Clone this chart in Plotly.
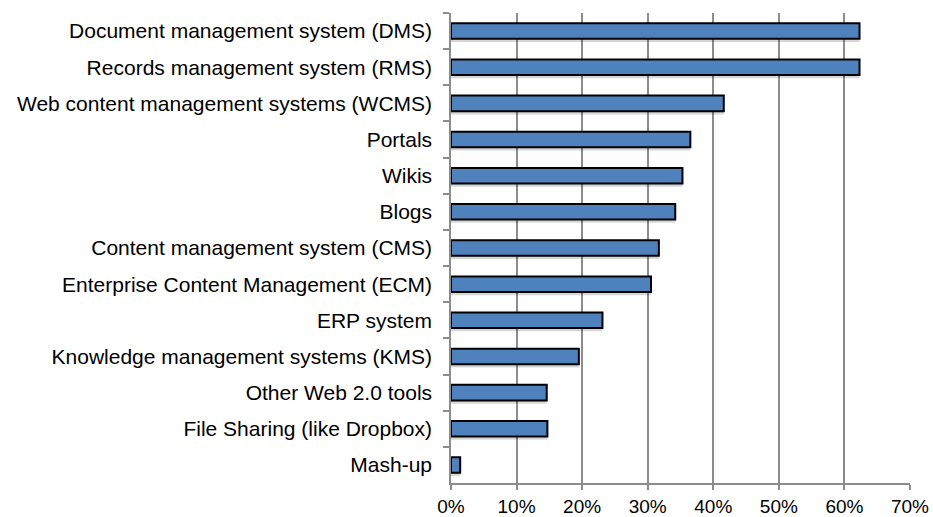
"""Horizontal bar chart of system usage shares, Excel-style."""

import plotly.graph_objects as go

categories = [
    "Document management system (DMS)",
    "Records management system (RMS)",
    "Web content management systems (WCMS)",
    "Portals",
    "Wikis",
    "Blogs",
    "Content management system (CMS)",
    "Enterprise Content Management (ECM)",
    "ERP system",
    "Knowledge management systems (KMS)",
    "Other Web 2.0 tools",
    "File Sharing (like Dropbox)",
    "Mash-up",
]
shares = [62.3, 62.3, 41.6, 36.5, 35.3, 34.2, 31.7, 30.5, 23.1, 19.5, 14.6, 14.7, 1.4]
x_ticks = [0, 10, 20, 30, 40, 50, 60, 70]

_FONT = "Liberation Sans, Arial, sans-serif"
_GRID = "#8c8c8c"
_BAR_W = 0.43

fig = go.Figure()

# soft drop shadow under each bar
fig.add_trace(
    go.Bar(
        x=shares,
        y=categories,
        orientation="h",
        width=_BAR_W,
        offset=-_BAR_W / 2 + 0.09,
        marker_color="rgba(0,0,0,0.16)",
        marker_line_width=0,
        hoverinfo="skip",
    )
)
fig.add_trace(
    go.Bar(
        x=shares,
        y=categories,
        orientation="h",
        width=_BAR_W,
        offset=-_BAR_W / 2,
        marker_color="#4F81BD",
        marker_line_color="#000000",
        marker_line_width=2,
        hovertemplate="<b>%{y}</b><br>%{x:.1f}%<extra></extra>",
    )
)

fig.update_layout(
    width=933,
    height=517,
    paper_bgcolor="white",
    plot_bgcolor="white",
    font=dict(family=_FONT, color="#000000", size=21),
    margin=dict(l=451, r=23, t=13, b=34, autoexpand=False),
    barmode="overlay",
    showlegend=False,
    xaxis=dict(
        range=[0, 70],
        tickvals=x_ticks,
        ticktext=[f"{v}%" for v in x_ticks],
        showgrid=True,
        gridcolor=_GRID,
        gridwidth=1.5,
        showline=True,
        linecolor=_GRID,
        linewidth=1.5,
        ticks="outside",
        ticklen=5,
        tickcolor=_GRID,
        tickwidth=1.5,
        zeroline=False,
        automargin=False,
        ticklabelstandoff=0,
        tickfont=dict(size=19),
    ),
    yaxis=dict(
        autorange="reversed",
        tickson="boundaries",
        showline=True,
        linecolor=_GRID,
        linewidth=1.5,
        ticks="outside",
        ticklen=6,
        tickcolor=_GRID,
        tickwidth=1.5,
        showgrid=False,
        automargin=False,
        ticklabelstandoff=13,
        tickfont=dict(size=21),
    ),
)

# drop the default 8px body margin so the figure sits at the page corner
fig.write_html(
    "out.html",
    config={"displayModeBar": False},
    post_script="document.body.style.margin = '0';",
)
